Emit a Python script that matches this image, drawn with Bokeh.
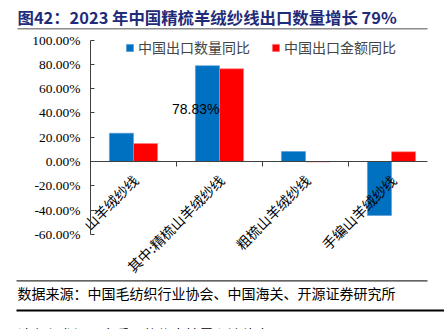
import numpy as np
from bokeh.plotting import figure
from bokeh.models import (Range1d, FixedTicker, PrintfTickFormatter, Legend, LegendItem,
                          ColumnDataSource)
from bokeh.core.properties import value
from bokeh.embed import file_html
from bokeh.resources import INLINE

# ---- data ----
categories = ["山羊绒纱线", "其中:精梳山羊绒纱线", "粗梳山羊绒纱线", "手编山羊绒纱线"]
qty_yoy = [23.3, 78.83, 8.2, -44.4]      # 中国出口数量同比 (%)
value_yoy = [14.8, 76.3, -0.4, 8.0]      # 中国出口金额同比 (%)
y_ticks = [-60, -40, -20, 0, 20, 40, 60, 80, 100]
series_names = ["中国出口数量同比", "中国出口金额同比"]
title_text = "图42：2023 年中国精梳羊绒纱线出口数量增长 79%"
source_text = "数据来源：中国毛纺织行业协会、中国海关、开源证券研究所"
footer_text = "请务必参阅正文后面的信息披露和法律声明"

W, H = 444, 329
CJK = "Noto Sans CJK SC"

# layout of the plot area in canvas pixels
PX_LEFT, PX_CAT = 90.0, 86.0          # x=0 position, pixels per category
PX_ZERO, PX_PER_PCT = 161.0, 1.215    # y=0 position, pixels per percent

x_start = -PX_LEFT / PX_CAT
x_end = (W - PX_LEFT) / PX_CAT
y_end = PX_ZERO / PX_PER_PCT
y_start = -(H - PX_ZERO) / PX_PER_PCT

xc = np.arange(len(categories)) + 0.5
src = ColumnDataSource(dict(x=xc, cat=categories, q=qty_yoy, v=value_yoy,
                            xq=xc - 0.14, xv=xc + 0.14))

p = figure(width=W, height=H, output_backend="svg", toolbar_location=None,
           x_range=Range1d(x_start, x_end), y_range=Range1d(y_start, y_end),
           min_border=0)
p.outline_line_color = None
p.grid.visible = False
p.background_fill_color = "white"
p.border_fill_color = "white"
p.extra_x_ranges = {"px": Range1d(0, W)}
p.extra_y_ranges = {"px": Range1d(H, 0)}

rq = p.vbar(x="xq", top="q", bottom=0, width=0.28, source=src,
            fill_color="#0070C0", line_color="#5B9BD5", line_width=0.6)
rv = p.vbar(x="xv", top="v", bottom=0, width=0.28, source=src,
            fill_color="#FF0000", line_color="#FF8080", line_width=0.6)

# y axis, fixed at x = 0
ya = p.yaxis[0]
ya.fixed_location = 0
ya.bounds = (y_ticks[0], y_ticks[-1])
ya.ticker = FixedTicker(ticks=y_ticks)
ya.formatter = PrintfTickFormatter(format="%.2f%%")
ya.major_tick_in = 4
ya.major_tick_out = 0
ya.minor_tick_line_color = None
ya.axis_line_color = "#404040"
ya.major_tick_line_color = "#404040"
ya.major_label_text_font = "Liberation Serif"
ya.major_label_text_font_size = "13.5px"
ya.major_label_text_color = "#000000"
ya.major_label_standoff = 10

# x axis, fixed at y = 0
xa = p.xaxis[0]
xa.fixed_location = 0
xa.bounds = (0, 3.92)
xa.ticker = FixedTicker(ticks=[0, 1, 2, 3])
xa.major_label_overrides = {0: " ", 1: " ", 2: " ", 3: " "}
xa.major_tick_in = 0
xa.major_tick_out = 5
xa.minor_tick_line_color = None
xa.axis_line_color = "#404040"
xa.major_tick_line_color = "#404040"

# category labels (rotated)
p.text(x="x", y=0, text="cat", source=src, angle=np.pi / 4,
       text_align="right", text_baseline="middle", x_offset=2, y_offset=16,
       text_font=value(CJK), text_font_size="14px", text_color="#000000")

# data label
lab_src = ColumnDataSource(dict(x=[xc[1] - 0.14], y=[qty_yoy[1] / 2],
                                t=["%.2f%%" % qty_yoy[1]]))
p.text(x="x", y="y", text="t", source=lab_src, text_align="right",
       text_baseline="middle", x_offset=12, y_offset=-5,
       text_font=value("Liberation Sans"), text_font_size="14px", text_color="#000000")

legend = Legend(items=[LegendItem(label=series_names[0], renderers=[rq]),
                       LegendItem(label=series_names[1], renderers=[rv])],
                location=(125, H - 57), orientation="horizontal",
                label_text_font=CJK, label_text_font_size="14px",
                glyph_width=9, glyph_height=9, label_standoff=4, spacing=21,
                padding=0, margin=0, border_line_color=None,
                background_fill_alpha=0)
p.add_layout(legend)

# title, source and rules, in canvas pixels
deco = dict(x_range_name="px", y_range_name="px")
p.text(x=[17], y=[4], text=[title_text], text_font=value(CJK), text_font_size="16.4px",
       text_font_style="bold", text_color="#1F2C7A", text_baseline="top", **deco)
p.segment(x0=[17], y0=[28.2], x1=[427], y1=[28.2], line_color="#8C8C8C",
          line_width=1.5, **deco)
p.segment(x0=[16], y0=[280.3], x1=[427], y1=[280.3], line_color="#333333",
          line_width=1.2, **deco)
p.text(x=[17], y=[282], text=[source_text], text_font=value(CJK), text_font_size="14px",
       text_color="#000000", text_baseline="top", **deco)
p.segment(x0=[16], y0=[310], x1=[W], y1=[310], line_color="#000000",
          line_width=2, **deco)
p.text(x=[17], y=[323], text=[footer_text], text_font=value(CJK), text_font_size="14px",
       text_color="#000000", text_baseline="top", **deco)

open("out.html", "w").write(file_html(p, INLINE))
